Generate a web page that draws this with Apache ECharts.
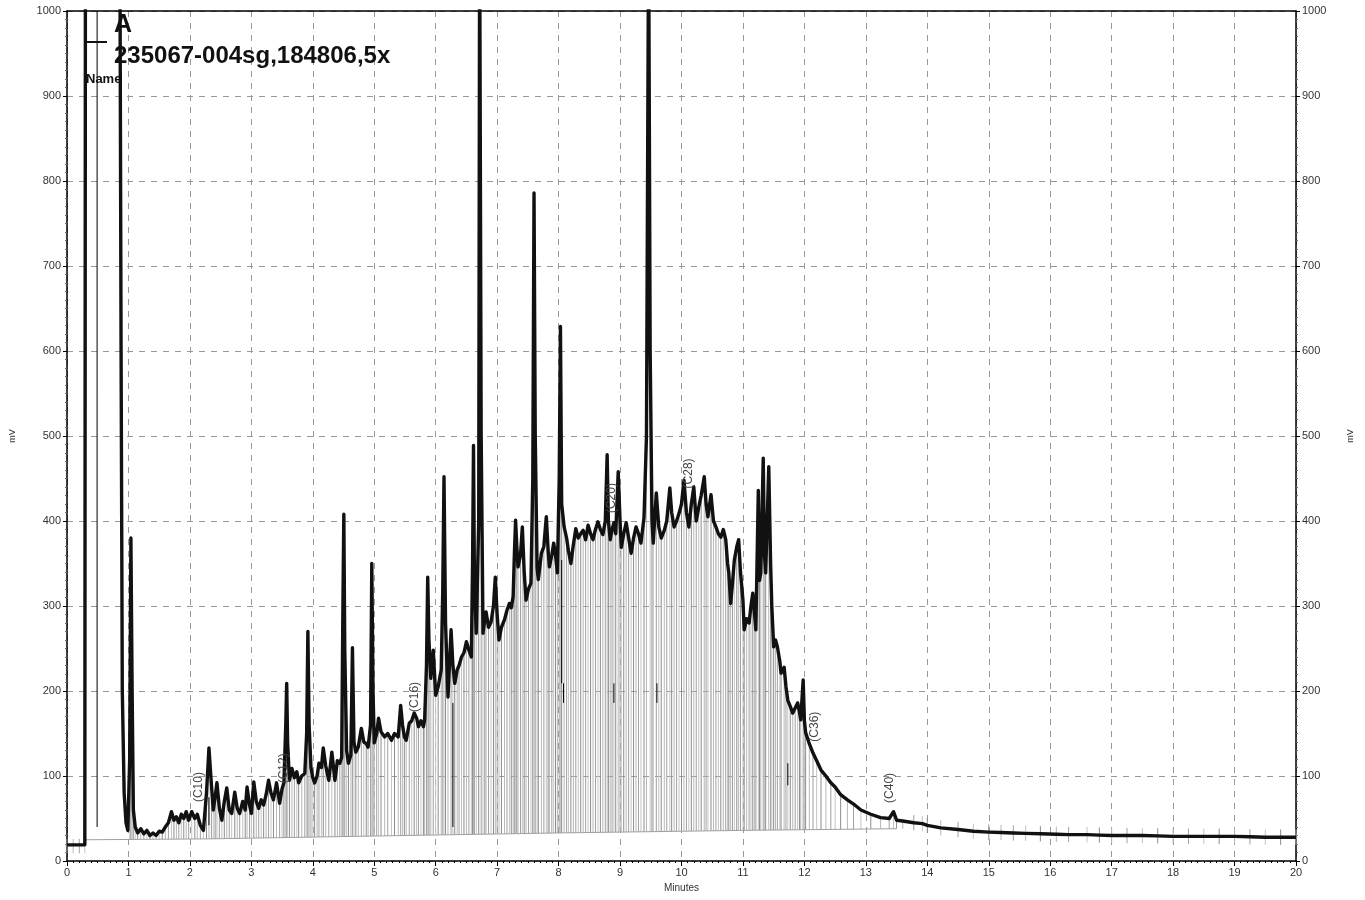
<!DOCTYPE html>
<html>
<head>
<meta charset="utf-8">
<script src="https://cdn.jsdelivr.net/npm/echarts@6/dist/echarts.min.js"></script>
<style>
html,body{margin:0;padding:0;background:#fff;}
#chart{width:1365px;height:900px;}
</style>
</head>
<body>
<div id="chart"></div>
<script>
// ---- data ----
const xTicks = [0,1,2,3,4,5,6,7,8,9,10,11,12,13,14,15,16,17,18,19,20];
const yTicks = [0,100,200,300,400,500,600,700,800,900,1000];

// trace: [minutes, mV]  (values > 1000 are off-scale)
const trace = [
[0,19],[0.1,19],[0.2,19],[0.29,19],[0.3,1100],[0.86,1100],[0.88,600],[0.9,200],[0.93,80],[0.96,45],[0.99,36],
[1.02,120],[1.04,380],[1.06,200],[1.08,60],[1.11,40],[1.15,33],[1.2,38],[1.25,32],[1.3,36],[1.35,30],[1.4,33],
[1.45,30],[1.5,35],[1.55,34],[1.6,40],[1.65,45],[1.7,58],[1.74,48],[1.78,52],[1.82,45],[1.86,55],[1.9,50],
[1.94,58],[1.98,48],[2.03,58],[2.08,50],[2.12,55],[2.17,42],[2.22,36],[2.27,80],[2.31,133],[2.35,90],[2.38,60],
[2.41,75],[2.44,92],[2.48,62],[2.52,48],[2.56,70],[2.6,86],[2.64,60],[2.68,56],[2.73,81],[2.77,62],[2.81,56],
[2.86,70],[2.9,60],[2.93,87],[2.97,66],[3.0,56],[3.04,93],[3.08,70],[3.12,62],[3.16,72],[3.2,66],[3.24,78],
[3.28,95],[3.32,80],[3.36,72],[3.41,92],[3.46,68],[3.5,85],[3.53,92],[3.56,160],[3.575,209],[3.59,140],[3.62,95],
[3.66,109],[3.7,98],[3.74,105],[3.77,92],[3.82,100],[3.87,103],[3.9,150],[3.92,270],[3.94,160],[3.97,110],
[4.0,98],[4.03,92],[4.07,100],[4.1,115],[4.14,110],[4.17,133],[4.21,112],[4.26,95],[4.31,128],[4.36,95],
[4.4,118],[4.44,115],[4.47,122],[4.49,300],[4.505,408],[4.52,250],[4.55,130],[4.58,115],[4.62,125],[4.645,251],
[4.67,140],[4.7,128],[4.74,134],[4.79,156],[4.83,140],[4.87,138],[4.9,134],[4.94,160],[4.96,350],[4.98,200],
[5.0,139],[5.04,150],[5.07,168],[5.11,152],[5.17,146],[5.22,150],[5.28,142],[5.33,150],[5.39,146],[5.43,183],
[5.46,160],[5.49,146],[5.52,142],[5.57,162],[5.61,165],[5.65,174],[5.69,168],[5.72,158],[5.76,165],[5.8,158],
[5.82,166],[5.85,230],[5.87,334],[5.89,260],[5.92,215],[5.96,248],[6.0,195],[6.04,205],[6.09,225],[6.115,320],
[6.135,452],[6.16,280],[6.2,193],[6.25,272],[6.28,230],[6.31,209],[6.35,225],[6.38,230],[6.42,240],[6.46,245],
[6.5,258],[6.54,248],[6.58,240],[6.6,350],[6.615,489],[6.63,330],[6.66,268],[6.7,400],[6.715,1100],[6.74,500],
[6.77,268],[6.8,285],[6.82,293],[6.86,275],[6.9,281],[6.94,300],[6.97,334],[7.0,290],[7.03,260],[7.07,275],
[7.12,284],[7.16,295],[7.2,303],[7.23,298],[7.26,311],[7.28,360],[7.3,401],[7.32,370],[7.34,346],[7.38,360],
[7.41,393],[7.44,340],[7.47,307],[7.51,320],[7.55,327],[7.58,450],[7.6,786],[7.62,500],[7.65,345],[7.67,331],
[7.72,362],[7.76,370],[7.8,405],[7.83,365],[7.85,346],[7.89,360],[7.92,374],[7.95,360],[7.98,339],[8.01,450],
[8.03,629],[8.05,420],[8.09,393],[8.13,380],[8.16,365],[8.2,350],[8.24,372],[8.28,391],[8.32,380],[8.36,385],
[8.4,389],[8.44,378],[8.48,395],[8.52,385],[8.56,378],[8.6,390],[8.64,399],[8.68,390],[8.72,384],[8.76,400],
[8.79,478],[8.81,400],[8.84,378],[8.87,390],[8.9,398],[8.93,385],[8.97,458],[9.0,400],[9.02,369],[9.06,385],
[9.1,398],[9.14,380],[9.18,362],[9.22,380],[9.26,393],[9.3,385],[9.34,374],[9.39,404],[9.43,500],[9.465,1100],
[9.49,600],[9.52,400],[9.54,374],[9.59,433],[9.63,393],[9.67,380],[9.72,389],[9.76,400],[9.81,439],[9.84,410],
[9.88,393],[9.92,400],[9.96,409],[10.0,420],[10.04,448],[10.08,410],[10.12,393],[10.16,420],[10.2,440],
[10.24,400],[10.28,416],[10.32,430],[10.37,452],[10.4,420],[10.43,405],[10.48,431],[10.52,400],[10.56,393],
[10.6,385],[10.64,381],[10.68,390],[10.72,378],[10.75,350],[10.77,339],[10.8,303],[10.83,327],[10.86,354],
[10.9,370],[10.93,378],[10.96,340],[11.0,307],[11.02,272],[11.06,285],[11.1,280],[11.13,300],[11.16,315],
[11.19,290],[11.21,272],[11.25,436],[11.27,330],[11.29,339],[11.33,474],[11.35,360],[11.37,339],[11.42,464],
[11.45,350],[11.47,299],[11.5,252],[11.53,260],[11.56,252],[11.6,235],[11.62,221],[11.67,228],[11.7,205],
[11.73,189],[11.77,182],[11.81,174],[11.85,180],[11.89,186],[11.92,175],[11.94,166],[11.98,213],[12.0,165],
[12.02,151],[12.08,138],[12.14,127],[12.2,118],[12.27,107],[12.35,100],[12.43,92],[12.5,87],[12.59,78],
[12.7,72],[12.8,67],[12.92,60],[13.08,55],[13.24,51],[13.38,50],[13.45,58],[13.5,48],[13.6,47],[13.78,45],
[13.92,44],[14.0,42],[14.22,39],[14.5,37],[14.75,35],[15.0,34],[15.2,33.5],[15.4,33],[15.6,32.5],[15.84,32],
[16.1,31.5],[16.3,31],[16.6,31],[16.8,30.5],[17.0,30],[17.25,30],[17.5,30],[17.75,29.5],[18.0,29],[18.25,29],
[18.5,29],[18.75,29],[19.0,29],[19.25,28.5],[19.5,28],[19.75,28],[20.0,28]
];

// integration baseline knots [minutes, mV]
const baseline = [[0.3,25],[2.3,26],[5.5,30],[8,33],[11,36],[13.5,38]];

// thin black event markers [minutes, from mV, to mV]
const markers = [[0.49,40,1000],[2.31,42,75],[6.28,40,186],[8.05,209,354],[8.08,186,209],[8.9,186,209],[9.6,186,209],[11.73,89,115]];

// peak name labels
const peakNames = ['(C10)','(C12)','(C16)','(C20)','(C28)','(C36)','(C40)'];
const peakTimes = [2.14,3.53,5.65,8.87,10.12,12.17,13.39];
const peakLevels = [87,109,193,427,456,158,86];

const seriesName = '235067-004sg,184806,5x';

// ---- derived drawing data ----
function baseAt(t){
  for (let i=0;i<baseline.length-1;i++){
    const a=baseline[i], b=baseline[i+1];
    if (t>=a[0] && t<=b[0]) return a[1]+(b[1]-a[1])*(t-a[0])/(b[0]-a[0]);
  }
  return baseline[baseline.length-1][1];
}
const drops = [];
trace.forEach(function(p, i){
  const t=p[0], v=Math.min(p[1],1000);
  if (t < 0.3) drops.push([t, v-10, v+7, i]);
  else if (t > 13.6) drops.push([t, v-9, v+9, i]);
  else if (t > 1.0 && !(v >= 1000)) drops.push([t, baseAt(t), v, i]);
});
const labelData = peakNames.map(function(n,i){ return [peakTimes[i], peakLevels[i], n]; });

const grays = ['#8c8c8c','#b8b8b8','#a0a0a0','#c4c4c4'];

const chart = echarts.init(document.getElementById('chart'));
const axisFont = {fontFamily:'Liberation Sans, Arial, sans-serif', fontSize:11, color:'#333'};
const plain = function(v){ return String(v); };
chart.setOption({
  animation:false,
  backgroundColor:'#fff',
  grid:{left:65, right:69, top:11, bottom:39},
  xAxis:[{
    type:'value', min:xTicks[0], max:xTicks[xTicks.length-1], interval:1, position:'bottom',
    name:'Minutes', nameLocation:'middle', nameGap:22,
    nameTextStyle:{fontFamily:'Liberation Sans, Arial, sans-serif', fontSize:10, color:'#333'},
    axisLine:{show:true, onZero:false, lineStyle:{color:'#000', width:1.5}},
    axisTick:{show:true, length:5, lineStyle:{color:'#000'}},
    minorTick:{show:true, splitNumber:10, length:2, lineStyle:{color:'#000'}},
    splitLine:{show:true, lineStyle:{color:'#999', type:[6,6], width:1}},
    axisLabel:Object.assign({margin:6, formatter:plain}, axisFont)
  },{
    type:'value', min:0, max:20, position:'top',
    axisLine:{show:true, onZero:false, lineStyle:{color:'#000', width:1.5}},
    axisTick:{show:false}, axisLabel:{show:false}, splitLine:{show:false}
  }],
  yAxis:[{
    type:'value', min:yTicks[0], max:yTicks[yTicks.length-1], interval:100, position:'left',
    name:'mV', nameLocation:'middle', nameGap:50, nameRotate:90,
    nameTextStyle:{fontFamily:'Liberation Sans, Arial, sans-serif', fontSize:9, color:'#333'},
    axisLine:{show:true, onZero:false, lineStyle:{color:'#000', width:1.5}},
    axisTick:{show:true, length:4, lineStyle:{color:'#000'}},
    minorTick:{show:true, splitNumber:10, length:2, lineStyle:{color:'#666'}},
    splitLine:{show:true, lineStyle:{color:'#999', type:[6,6], width:1}},
    axisLabel:Object.assign({margin:6, formatter:plain}, axisFont)
  },{
    type:'value', min:0, max:1000, interval:100, position:'right',
    name:'mV', nameLocation:'middle', nameGap:50, nameRotate:90,
    nameTextStyle:{fontFamily:'Liberation Sans, Arial, sans-serif', fontSize:9, color:'#333'},
    axisLine:{show:true, onZero:false, lineStyle:{color:'#000', width:1.5}},
    axisTick:{show:true, length:4, lineStyle:{color:'#000'}},
    minorTick:{show:true, splitNumber:10, length:2, lineStyle:{color:'#666'}},
    splitLine:{show:false},
    axisLabel:Object.assign({margin:6, formatter:plain}, axisFont)
  }],
  series:[
    {
      type:'custom', name:'drops', xAxisIndex:0, yAxisIndex:0, silent:true, z:1,
      data:drops,
      renderItem:function(params, api){
        const t=api.value(0), y1=Math.max(api.value(1),0), y2=Math.min(api.value(2),1000);
        const p1=api.coord([t,y1]), p2=api.coord([t,y2]);
        const idx=api.value(3);
        return {type:'line', shape:{x1:p1[0],y1:p1[1],x2:p2[0],y2:p2[1]},
          style:{stroke:grays[idx%grays.length], lineWidth:1}};
      }
    },
    {
      type:'line', name:'baseline', data:baseline, showSymbol:false, silent:true, z:2,
      lineStyle:{color:'#a0a0a0', width:1}
    },
    {
      type:'line', name:seriesName, data:trace, showSymbol:false, clip:true, z:5,
      lineStyle:{color:'#111', width:3.4, join:'round'}
    },
    {
      type:'custom', name:'markers', silent:true, z:6, data:markers,
      renderItem:function(params, api){
        const p1=api.coord([api.value(0),api.value(1)]), p2=api.coord([api.value(0),Math.min(api.value(2),1000)]);
        return {type:'line', shape:{x1:p1[0],y1:p1[1],x2:p2[0],y2:p2[1]}, style:{stroke:'#000', lineWidth:1}};
      }
    },
    {
      type:'custom', name:'peakLabels', silent:true, z:7, data:labelData,
      renderItem:function(params, api){
        const p=api.coord([api.value(0),api.value(1)]);
        return {type:'text', x:p[0], y:p[1], rotation:Math.PI/2,
          style:{text:labelData[params.dataIndex][2], fill:'#444', align:'center', verticalAlign:'middle',
            font:'12px "Liberation Sans", Arial, sans-serif'}};
      }
    }
  ],
  graphic:[
    {type:'line', shape:{x1:85,y1:42,x2:107,y2:42}, style:{stroke:'#111', lineWidth:2}, z:10},
    {type:'text', left:114, top:13, style:{text:'A', fill:'#111', font:'bold 25px "Liberation Sans", Arial, sans-serif'}, z:10},
    {type:'text', left:114, top:44, style:{text:seriesName, fill:'#111', font:'bold 24px "Liberation Sans", Arial, sans-serif'}, z:10},
    {type:'text', left:86, top:73, style:{text:'Name', fill:'#111', font:'bold 13px "Liberation Sans", Arial, sans-serif'}, z:10}
  ]
});
</script>
</body>
</html>
